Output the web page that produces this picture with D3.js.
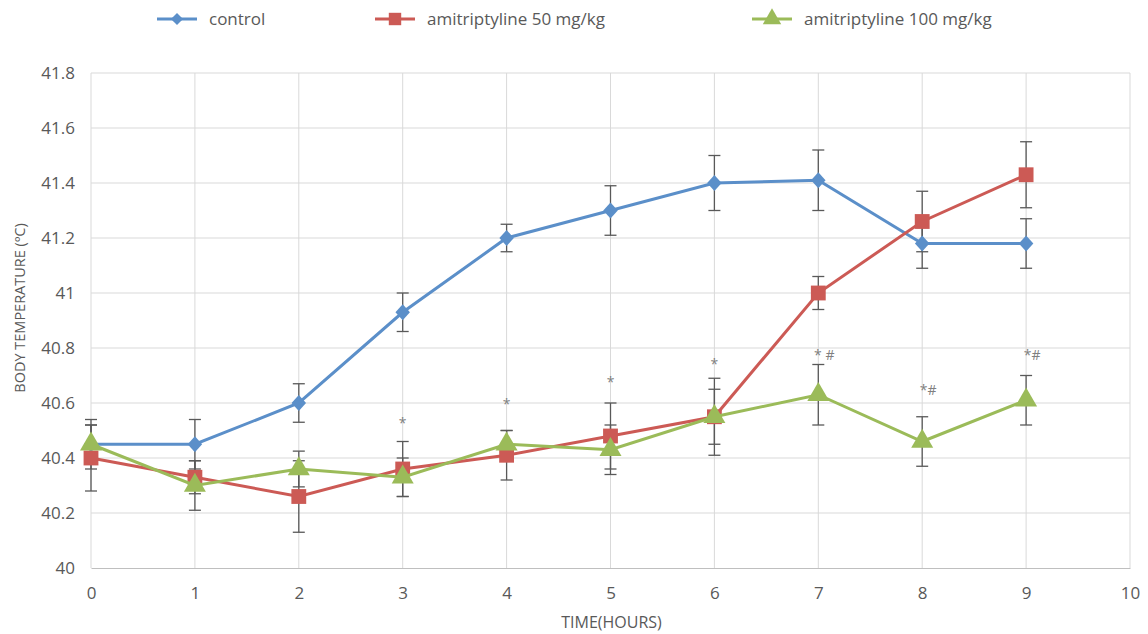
<!DOCTYPE html>
<html>
<head>
<meta charset="utf-8">
<script src="https://cdn.jsdelivr.net/npm/d3@7"></script>
<style>
  body { margin: 0; background: #fff; }
  svg text { font-family: "Liberation Sans Narrow", "Open Sans", sans-serif; fill: #595959; }
</style>
</head>
<body>
<script>
var hours = [0, 1, 2, 3, 4, 5, 6, 7, 8, 9]
var xTicks = [0, 1, 2, 3, 4, 5, 6, 7, 8, 9, 10]
var yTicks = [40, 40.2, 40.4, 40.6, 40.8, 41, 41.2, 41.4, 41.6, 41.8]

var control = [40.45, 40.45, 40.60, 40.93, 41.20, 41.30, 41.40, 41.41, 41.18, 41.18]
var controlErr = [0.09, 0.09, 0.07, 0.07, 0.05, 0.09, 0.10, 0.11, 0.09, 0.09]
var ami50 = [40.40, 40.33, 40.26, 40.36, 40.41, 40.48, 40.55, 41.00, 41.26, 41.43]
var ami50Err = [0.12, 0.06, 0.13, 0.10, 0.09, 0.12, 0.14, 0.06, 0.11, 0.12]
var ami100 = [40.45, 40.30, 40.36, 40.33, 40.45, 40.43, 40.55, 40.63, 40.46, 40.61]
var ami100Err = [0.07, 0.09, 0.065, 0.07, 0.05, 0.09, 0.10, 0.11, 0.09, 0.09]

var marks = ['', '', '', '*', '*', '*', '*', '* #', '*#', '*#']
var markY = [null, null, null, 40.53, 40.60, 40.68, 40.745, 40.78, 40.65, 40.78]

var seriesNames = ['control', 'amitriptyline 50 mg/kg', 'amitriptyline 100 mg/kg']
var seriesColors = ['#5b8fc9', '#cc5a55', '#9bbb59']
var seriesShapes = [d3.symbolSquare, d3.symbolSquare, d3.symbolTriangle]

var width = 1148, height = 634
var margin = {left: 91, right: 18, top: 73, bottom: 66}

var svg = d3.select('body').append('svg')
  .attr('width', width)
  .attr('height', height)

var x = d3.scaleLinear().domain([0, 10]).range([margin.left, width - margin.right])
var y = d3.scaleLinear().domain([40, 41.8]).range([height - margin.bottom, margin.top])

// grid
svg.append('g').selectAll('line').data(yTicks.slice(1)).enter().append('line')
  .attr('x1', x(0)).attr('x2', x(10))
  .attr('y1', function(d) { return y(d) }).attr('y2', function(d) { return y(d) })
  .attr('stroke', '#d9d9d9').attr('stroke-width', 1)
svg.append('g').selectAll('line').data(xTicks).enter().append('line')
  .attr('x1', function(d) { return x(d) }).attr('x2', function(d) { return x(d) })
  .attr('y1', y(41.8)).attr('y2', y(40))
  .attr('stroke', '#d9d9d9').attr('stroke-width', 1)

// axes
var xAxis = svg.append('g')
  .attr('transform', 'translate(0,' + y(40) + ')')
  .call(d3.axisBottom(x).tickValues(xTicks).tickSize(0).tickPadding(19))
xAxis.select('.domain').attr('stroke', '#bfbfbf')
xAxis.selectAll('text').style('font-size', '17px')

var yAxis = svg.append('g')
  .attr('transform', 'translate(' + (x(0) - 16) + ',0)')
  .call(d3.axisLeft(y).tickValues(yTicks).tickSize(0).tickPadding(0).tickFormat(d3.format('')))
yAxis.select('.domain').remove()
yAxis.selectAll('text').style('font-size', '17px')

svg.append('text')
  .attr('x', (x(0) + x(10)) / 2 + 1).attr('y', 628)
  .attr('text-anchor', 'middle')
  .style('font-size', '16px')
  .text('TIME(HOURS)')

svg.append('text')
  .attr('transform', 'translate(25,' + 308 + ') rotate(-90)')
  .attr('text-anchor', 'middle')
  .style('font-size', '14.5px')
  .text('BODY TEMPERATURE (ºC)')

var series = [
  {vals: control, err: controlErr},
  {vals: ami50, err: ami50Err},
  {vals: ami100, err: ami100Err}
]

// error bars
series.forEach(function(s) {
  var g = svg.append('g').attr('stroke', '#595959').attr('stroke-width', 1.3)
  hours.forEach(function(h, i) {
    var lo = y(s.vals[i] - s.err[i]), hi = y(s.vals[i] + s.err[i])
    g.append('line').attr('x1', x(h)).attr('x2', x(h)).attr('y1', lo).attr('y2', hi)
    g.append('line').attr('x1', x(h) - 6).attr('x2', x(h) + 6).attr('y1', lo).attr('y2', lo)
    g.append('line').attr('x1', x(h) - 6).attr('x2', x(h) + 6).attr('y1', hi).attr('y2', hi)
  })
})

var line = d3.line()
  .x(function(d, i) { return x(hours[i]) })
  .y(function(d) { return y(d) })

var sizes = [105, 220, 210]
// control uses a square turned into a diamond
var shapeTf = ['rotate(45)', '', '']

series.forEach(function(s, k) {
  svg.append('path')
    .datum(s.vals)
    .attr('d', line)
    .attr('fill', 'none')
    .attr('stroke', seriesColors[k])
    .attr('stroke-width', 3)
  svg.append('g').selectAll('path').data(s.vals).enter().append('path')
    .attr('d', d3.symbol().type(seriesShapes[k]).size(sizes[k]))
    .attr('transform', function(d, i) {
      return 'translate(' + x(hours[i]) + ',' + y(d) + ')' + (k === 0 ? 'scale(1,1.1)' : '') + shapeTf[k]
    })
    .attr('fill', seriesColors[k])
})

// significance marks
svg.append('g').selectAll('text').data(marks).enter().append('text')
  .filter(function(d) { return d !== '' })
  .attr('x', function(d, i) { return x(hours[i + 3]) + (d.length > 1 ? 6 : 0) })
  .attr('y', function(d, i) { return y(markY[i + 3]) + 6 })
  .attr('text-anchor', 'middle')
  .style('font-size', '14px')
  .style('fill', '#7f7f7f')
  .text(function(d) { return d })

// legend
var legendX = [157, 375, 752]
var legend = svg.append('g')
seriesNames.forEach(function(name, k) {
  legend.append('line')
    .attr('x1', legendX[k]).attr('x2', legendX[k] + 40)
    .attr('y1', 19).attr('y2', 19)
    .attr('stroke', seriesColors[k]).attr('stroke-width', 3)
  legend.append('path')
    .attr('d', d3.symbol().type(seriesShapes[k]).size(sizes[k] * 0.7))
    .attr('transform', 'translate(' + (legendX[k] + 20) + ',19)' + shapeTf[k])
    .attr('fill', seriesColors[k])
  legend.append('text')
    .attr('x', legendX[k] + 52).attr('y', 25)
    .style('font-size', '17px')
    .text(name)
})
</script>
</body>
</html>
